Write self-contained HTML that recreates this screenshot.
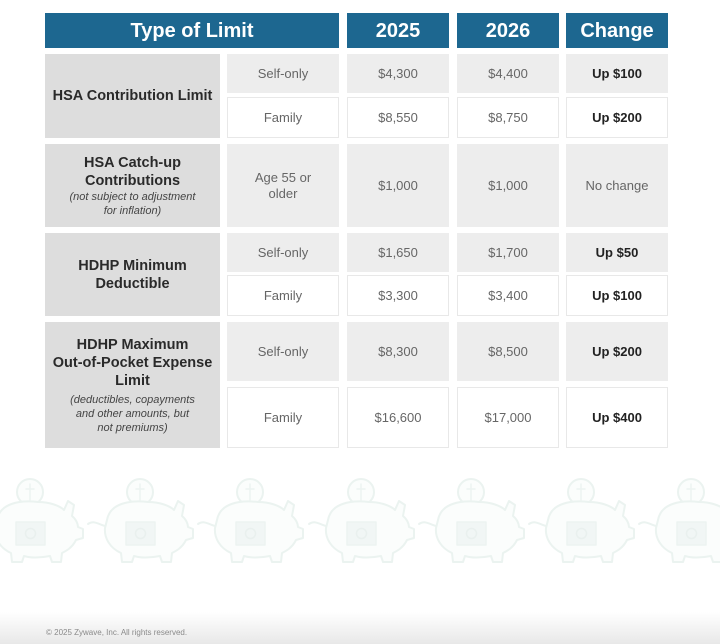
<!DOCTYPE html>
<html>
<head>
<meta charset="utf-8">
<style>
  html, body { margin:0; padding:0; }
  body { width:720px; height:644px; position:relative; overflow:hidden; background:#ffffff; font-family:"Liberation Sans", Arial, sans-serif; }
  .c { position:absolute; box-sizing:border-box; display:flex; align-items:center; justify-content:center; text-align:center; }
  .hd { background:#1d6790; color:#ffffff; font-weight:bold; font-size:20px; padding-top:2px; }
  .lab { background:#dddddd; color:#2a2a2a; font-weight:bold; font-size:14.5px; line-height:18px; flex-direction:column; }
  .lab i { font-weight:normal; font-size:11px; line-height:14px; color:#444; display:block; }
  .g { background:#ededed; color:#666; font-size:13px; }
  .w { background:#ffffff; border:1px solid #e8e8e8; color:#666; font-size:13px; }
  .b { color:#222; font-weight:bold; }
  .foot { position:absolute; left:0; top:612px; width:720px; height:32px; background:linear-gradient(#ffffff, #e8e8e8); }
  .ft { position:absolute; left:46px; top:628px; font-size:8px; color:#8a8a8a; white-space:nowrap; }
</style>
</head>
<body>
<!-- header -->
<div class="c hd" style="left:45px;top:13px;width:294px;height:35px;">Type of Limit</div>
<div class="c hd" style="left:347px;top:13px;width:102px;height:35px;">2025</div>
<div class="c hd" style="left:457px;top:13px;width:102px;height:35px;">2026</div>
<div class="c hd" style="left:566px;top:13px;width:102px;height:35px;">Change</div>

<!-- group 1 -->
<div class="c lab" style="left:45px;top:54px;width:175px;height:84px;">HSA Contribution Limit</div>
<div class="c g" style="left:227px;top:54px;width:112px;height:39px;">Self-only</div>
<div class="c g" style="left:347px;top:54px;width:102px;height:39px;">$4,300</div>
<div class="c g" style="left:457px;top:54px;width:102px;height:39px;">$4,400</div>
<div class="c g b" style="left:566px;top:54px;width:102px;height:39px;">Up $100</div>
<div class="c w" style="left:227px;top:97px;width:112px;height:41px;">Family</div>
<div class="c w" style="left:347px;top:97px;width:102px;height:41px;">$8,550</div>
<div class="c w" style="left:457px;top:97px;width:102px;height:41px;">$8,750</div>
<div class="c w b" style="left:566px;top:97px;width:102px;height:41px;">Up $200</div>

<!-- group 2 -->
<div class="c lab" style="left:45px;top:144px;width:175px;height:83px;"><span>HSA Catch-up<br>Contributions</span><i>(not subject to adjustment<br>for inflation)</i></div>
<div class="c g" style="left:227px;top:144px;width:112px;height:83px;line-height:16px;">Age 55 or<br>older</div>
<div class="c g" style="left:347px;top:144px;width:102px;height:83px;">$1,000</div>
<div class="c g" style="left:457px;top:144px;width:102px;height:83px;">$1,000</div>
<div class="c g" style="left:566px;top:144px;width:102px;height:83px;">No change</div>

<!-- group 3 -->
<div class="c lab" style="left:45px;top:233px;width:175px;height:83px;">HDHP Minimum<br>Deductible</div>
<div class="c g" style="left:227px;top:233px;width:112px;height:39px;">Self-only</div>
<div class="c g" style="left:347px;top:233px;width:102px;height:39px;">$1,650</div>
<div class="c g" style="left:457px;top:233px;width:102px;height:39px;">$1,700</div>
<div class="c g b" style="left:566px;top:233px;width:102px;height:39px;">Up $50</div>
<div class="c w" style="left:227px;top:275px;width:112px;height:41px;">Family</div>
<div class="c w" style="left:347px;top:275px;width:102px;height:41px;">$3,300</div>
<div class="c w" style="left:457px;top:275px;width:102px;height:41px;">$3,400</div>
<div class="c w b" style="left:566px;top:275px;width:102px;height:41px;">Up $100</div>

<!-- group 4 -->
<div class="c lab" style="left:45px;top:322px;width:175px;height:126px;"><span>HDHP Maximum<br>Out-of-Pocket Expense<br>Limit</span><i style="margin-top:3px;">(deductibles, copayments<br>and other amounts, but<br>not premiums)</i></div>
<div class="c g" style="left:227px;top:322px;width:112px;height:59px;">Self-only</div>
<div class="c g" style="left:347px;top:322px;width:102px;height:59px;">$8,300</div>
<div class="c g" style="left:457px;top:322px;width:102px;height:59px;">$8,500</div>
<div class="c g b" style="left:566px;top:322px;width:102px;height:59px;">Up $200</div>
<div class="c w" style="left:227px;top:387px;width:112px;height:61px;">Family</div>
<div class="c w" style="left:347px;top:387px;width:102px;height:61px;">$16,600</div>
<div class="c w" style="left:457px;top:387px;width:102px;height:61px;">$17,000</div>
<div class="c w b" style="left:566px;top:387px;width:102px;height:61px;">Up $400</div>

<!-- piggy banks -->
<svg style="position:absolute;left:0;top:460px;" width="720" height="120" viewBox="0 460 720 120">
  <defs>
    <g id="pig" fill="none" stroke="#ebf3f0" stroke-width="2" stroke-linejoin="round" stroke-linecap="round">
      <circle cx="0" cy="492" r="13" fill="#fbfdfc"/>
      <path fill="#fbfdfc" d="M-33,520 C-30,503 -10,500 8,502 C20,502 30,506 34,510 L38,501 L44,505 L42,516 C46,519 48,524 48,527 L53,529 L53,538 L46,540 C42,548 36,551 32,553 L31,562 L22,562 L20,556 C10,558 0,558 -6,556 L-8,562 L-18,562 L-19,553 C-30,548 -36,538 -35,528 Z"/>
      <path d="M-35,526 C-42,524 -46,520 -52,524"/>
      <rect x="-14" y="522" width="29" height="23" fill="#f1f6f5" stroke="#edf3f1" stroke-width="1.5"/>
      <circle cx="0.5" cy="533.5" r="5" stroke="#e9f0ee" stroke-width="1.5"/>
      <path d="M-4,489 L4,489 M0,484 L0,500" stroke="#edf3f1" stroke-width="1.5"/>
    </g>
  </defs>
  <use href="#pig" x="30" y="0"/>
  <use href="#pig" x="140" y="0"/>
  <use href="#pig" x="250" y="0"/>
  <use href="#pig" x="361" y="0"/>
  <use href="#pig" x="471" y="0"/>
  <use href="#pig" x="581" y="0"/>
  <use href="#pig" x="691" y="0"/>
</svg>

<div class="foot"></div>
<div class="ft">© 2025 Zywave, Inc. All rights reserved.</div>
</body>
</html>
